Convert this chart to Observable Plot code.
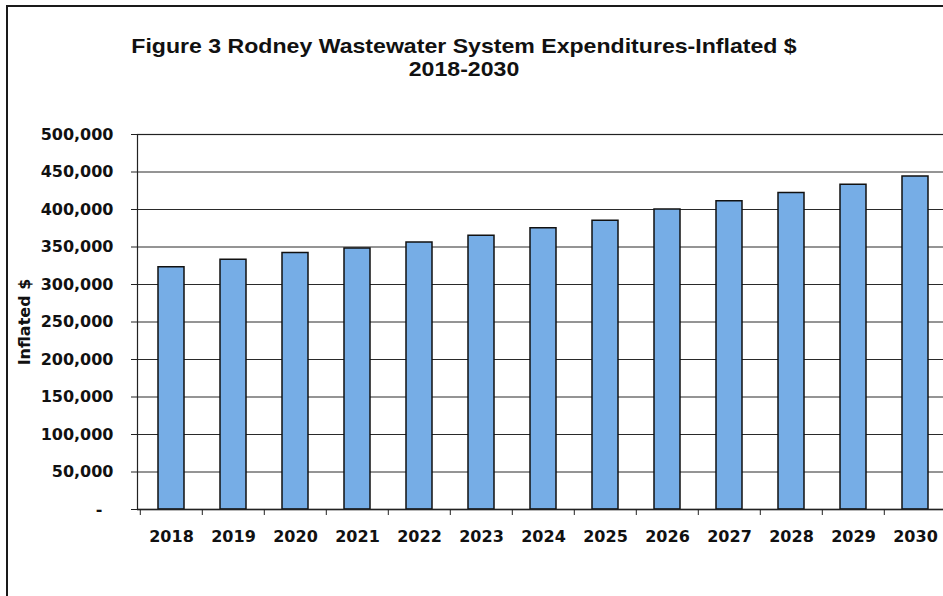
<!DOCTYPE html>
<html>
<head>
<meta charset="utf-8">
<script src="https://cdn.jsdelivr.net/npm/d3@7"></script>
<script src="https://cdn.jsdelivr.net/npm/@observablehq/plot@0.6"></script>
<style>
  html, body { margin: 0; padding: 0; background: #fff; }
  #wrap { position: relative; width: 943px; height: 596px; overflow: hidden; background: #fff; }
  #border { position: absolute; left: 6px; top: 5px; width: 1200px; height: 1200px; border: 2px solid #1a1a1a; box-sizing: border-box; }
  #title { position: absolute; left: 0; top: 34px; width: 928px; text-align: center;
           font-family: "Liberation Sans", Arial, sans-serif; font-weight: bold; font-size: 21px; line-height: 23px; color: #111;
           transform: scaleX(1.1); transform-origin: 464px 0; }
  #chart { position: absolute; left: 0; top: 0; width: 948px; height: 596px; }
  #chart svg { max-width: none !important; width: 948px; height: 596px; }
</style>
</head>
<body>
<div id="wrap">
  <div id="border"></div>
  <div id="chart"></div>
  <div id="title">Figure 3 Rodney Wastewater System Expenditures-Inflated $<br>2018-2030</div>
</div>
<script>
const years = ["2018","2019","2020","2021","2022","2023","2024","2025","2026","2027","2028","2029","2030"];
const expenditures = [323000, 333000, 342000, 348000, 356000, 365000, 375000, 385000, 400000, 411000, 422000, 433000, 444000];
const yTicks = [0, 50000, 100000, 150000, 200000, 250000, 300000, 350000, 400000, 450000, 500000];
const yLabel = "Inflated $";

const data = years.map((y, i) => ({year: y, value: expenditures[i]}));
const font = "DejaVu Sans, sans-serif";
const step = (948 - 137) / years.length;

const chart = Plot.plot({
  width: 948,
  height: 596,
  marginLeft: 137,
  marginRight: 0,
  marginTop: 134,
  marginBottom: 87,
  style: {fontFamily: font, fontSize: "16px", fontWeight: "bold", color: "#111", background: "transparent", maxWidth: "none"},
  x: {domain: years, paddingInner: 0.583, paddingOuter: 0.2915, align: 0.5},
  y: {domain: [0, 500000]},
  marks: [
    Plot.gridY(yTicks, {stroke: "#2a2a2a", strokeOpacity: 1, strokeWidth: 1}),
    Plot.barY(data, {x: "year", y: "value", fill: "#76ade6", stroke: "#111", strokeWidth: 1.5}),
    Plot.frame({stroke: "#222", strokeWidth: 1.2}),
    Plot.axisY(yTicks, {tickSize: 6, tickPadding: 18, stroke: "#222",
      tickFormat: d => d === 0 ? "-\u00a0\u00a0" : d3.format(",")(d), label: null}),
    Plot.ruleY([0], {stroke: "#222", strokeWidth: 1.5}),
    Plot.axisX({tickSize: 6, tickFormat: () => "", dx: -step / 2, stroke: "#222", label: null}),
    Plot.axisX({tickSize: 0, tickPadding: 21, label: null}),
    Plot.text([yLabel], {frameAnchor: "left", textAnchor: "middle", dx: -113, rotate: -90, fontSize: 16, fontWeight: "bold", fill: "#111"})
  ]
});
document.getElementById("chart").appendChild(chart);
</script>
</body>
</html>
